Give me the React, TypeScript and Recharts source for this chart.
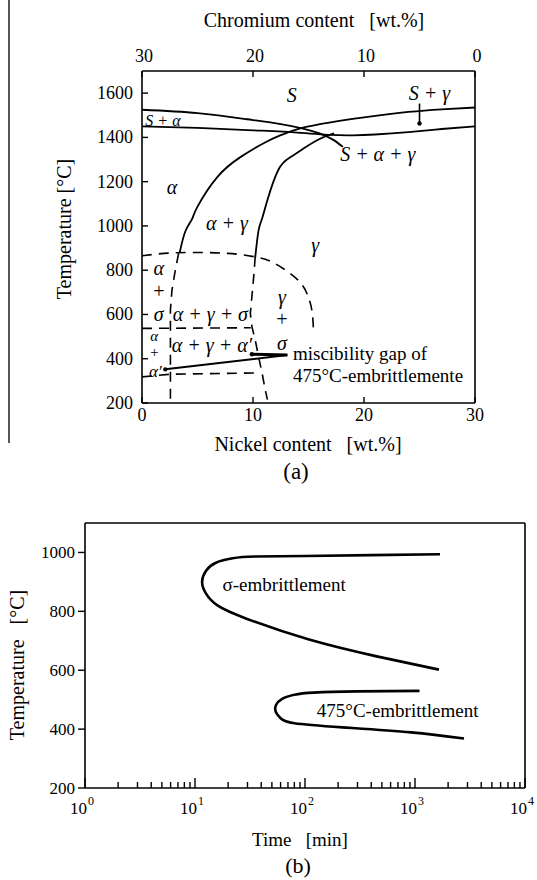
import React from 'react';
import { ComposedChart, Line, Scatter, XAxis, YAxis } from 'recharts';

const FONT = '"Liberation Serif", "Times New Roman", serif';

// ---------- (a) Phase diagram: Nickel content [wt.%] vs Temperature [°C] ----------
const niTicks = [0, 10, 20, 30];
const crTicks = [0, 10, 20, 30];
const tempTicksA = [200, 400, 600, 800, 1000, 1200, 1400, 1600];

const liquidusAlpha = [
  { ni: 0, t: 1525 }, { ni: 5, t: 1510 }, { ni: 9.5, t: 1482 }, { ni: 12.5, t: 1460 },
  { ni: 14.5, t: 1440 }, { ni: 16, t: 1418 }, { ni: 17.2, t: 1390 }, { ni: 18.1, t: 1357 },
];
const solidusLine = [
  { ni: 0, t: 1450 }, { ni: 5, t: 1443 }, { ni: 10, t: 1432 }, { ni: 14, t: 1422 },
  { ni: 17, t: 1411 }, { ni: 19, t: 1409 }, { ni: 21, t: 1413 }, { ni: 24, t: 1424 },
  { ni: 27, t: 1438 }, { ni: 30, t: 1450 },
];
const alphaBoundary = [
  { ni: 3.4, t: 880 }, { ni: 3.9, t: 975 }, { ni: 4.5, t: 1030 }, { ni: 5, t: 1087 },
  { ni: 6.8, t: 1222 }, { ni: 8.9, t: 1312 }, { ni: 11, t: 1375 }, { ni: 12.5, t: 1410 },
  { ni: 14.25, t: 1441 }, { ni: 17, t: 1468 }, { ni: 20, t: 1490 }, { ni: 24, t: 1515 },
  { ni: 27, t: 1527 }, { ni: 30, t: 1535 },
];
const gammaBoundary = [
  { ni: 10.2, t: 858 }, { ni: 10.5, t: 980 }, { ni: 10.8, t: 1030 }, { ni: 11.3, t: 1117 },
  { ni: 12.3, t: 1255 }, { ni: 13.35, t: 1310 }, { ni: 14.55, t: 1350 }, { ni: 16, t: 1393 },
  { ni: 17.3, t: 1418 },
];
const sigmaDome = [
  { ni: 0, t: 865 }, { ni: 3.2, t: 879 }, { ni: 7.7, t: 876 }, { ni: 10.2, t: 860 },
  { ni: 11.8, t: 835 }, { ni: 13.96, t: 760 }, { ni: 14.9, t: 690 }, { ni: 15.3, t: 620 },
  { ni: 15.45, t: 530 },
];
const leftDashed = [
  { ni: 3.3, t: 876 }, { ni: 3.0, t: 800 }, { ni: 2.7, t: 710 }, { ni: 2.56, t: 620 },
  { ni: 2.56, t: 200 },
];
const midDashed = [
  { ni: 10.2, t: 860 }, { ni: 10.05, t: 763 }, { ni: 9.9, t: 680 }, { ni: 9.76, t: 605 },
  { ni: 9.9, t: 545 }, { ni: 10.2, t: 485 }, { ni: 10.5, t: 409 }, { ni: 10.8, t: 340 },
  { ni: 11.1, t: 260 }, { ni: 11.3, t: 215 },
];
const sigmaLower = [{ ni: 0, t: 537 }, { ni: 9.8, t: 540 }];
const alphaPrimeLower = [{ ni: 0, t: 318 }, { ni: 2.6, t: 330 }, { ni: 10.5, t: 336 }];
const miscLeader1 = [{ ni: 2.1, t: 352 }, { ni: 13.1, t: 417 }];
const miscLeader2 = [{ ni: 9.9, t: 420 }, { ni: 13.1, t: 417 }];
const sGammaLeader = [{ ni: 25.0, t: 1553 }, { ni: 25.0, t: 1463 }];
const leaderDots = [{ ni: 2.1, t: 352 }, { ni: 9.9, t: 420 }, { ni: 25.0, t: 1463 }];

const phaseLabels = [
  { ni: 13.5, t: 1591, text: 'S', size: 20 },
  { ni: 25.9, t: 1599, text: 'S + γ', size: 20 },
  { ni: 0.3, t: 1475, text: 'S + α', size: 16, anchor: 'start' },
  { ni: 17.85, t: 1323, text: 'S + α + γ', size: 20, anchor: 'start' },
  { ni: 2.7, t: 1177, text: 'α', size: 20 },
  { ni: 7.66, t: 1014, text: 'α + γ', size: 20 },
  { ni: 15.6, t: 913, text: 'γ', size: 20 },
  { ni: 1.5, t: 808, text: 'α', size: 20 },
  { ni: 1.5, t: 706, text: '+', size: 20 },
  { ni: 1.5, t: 600, text: 'σ', size: 20 },
  { ni: 6.16, t: 600, text: 'α + γ + σ', size: 20 },
  { ni: 1.1, t: 502, text: 'α', size: 15 },
  { ni: 1.1, t: 432, text: '+', size: 15 },
  { ni: 1.2, t: 343, text: 'α′', size: 17 },
  { ni: 6.3, t: 462, text: 'α + γ + α′', size: 20 },
  { ni: 12.6, t: 680, text: 'γ', size: 20 },
  { ni: 12.6, t: 578, text: '+', size: 20 },
  { ni: 12.6, t: 472, text: 'σ', size: 20 },
];
const noteLabels = [
  { ni: 13.6, t: 424, text: 'miscibility gap of' },
  { ni: 13.6, t: 323, text: '475°C-embrittlemente' },
];

// ---------- (b) Time-temperature diagram ----------
const timeTicks = [
  1, 2, 3, 4, 5, 6, 7, 8, 9,
  10, 20, 30, 40, 50, 60, 70, 80, 90,
  100, 200, 300, 400, 500, 600, 700, 800, 900,
  1000, 2000, 3000, 4000, 5000, 6000, 7000, 8000, 9000, 10000,
];
const tempTicksB = [200, 400, 600, 800, 1000];
const sigmaCurve = [
  { time: 1687, t: 994 }, { time: 400, t: 991 }, { time: 100, t: 988 }, { time: 35, t: 986 },
  { time: 22, t: 980 }, { time: 15.5, t: 965 }, { time: 12.6, t: 938 }, { time: 11.6, t: 900 },
  { time: 12.6, t: 860 }, { time: 16, t: 820 }, { time: 29.4, t: 775 }, { time: 107, t: 705 },
  { time: 449, t: 647 }, { time: 1650, t: 602 },
];
const curve475 = [
  { time: 1099, t: 530 }, { time: 300, t: 528 }, { time: 120, t: 524 }, { time: 80, t: 517 },
  { time: 62, t: 503 }, { time: 54.5, t: 482 }, { time: 54, t: 460 }, { time: 60, t: 437 },
  { time: 80, t: 420 }, { time: 219, t: 406 }, { time: 919, t: 389 }, { time: 2790, t: 368 },
];
const curveLabels = [
  { time: 17.8, t: 891, text: 'σ-embrittlement' },
  { time: 128, t: 464, text: '475°C-embrittlement' },
];

// ---------- renderers ----------
const TICK_IN = 6;

const BottomTickA = (props: any) => {
  const { x, y, payload } = props;
  return (
    <g>
      <line x1={x} x2={x} y1={y} y2={y - TICK_IN} stroke="#000" strokeWidth={1.4} />
      <text x={x} y={y + 18} textAnchor="middle" fontFamily={FONT} fontSize={18} fill="#000">
        {payload.value}
      </text>
    </g>
  );
};
const TopTickA = (props: any) => {
  const { x, y, payload } = props;
  return (
    <g>
      <line x1={x} x2={x} y1={y} y2={y + TICK_IN} stroke="#000" strokeWidth={1.4} />
      <text x={x + 2} y={y - 9} textAnchor="middle" fontFamily={FONT} fontSize={18} fill="#000">
        {payload.value}
      </text>
    </g>
  );
};
const LeftTickA = (props: any) => {
  const { x, y, payload } = props;
  return (
    <g>
      <line x1={x} x2={x + TICK_IN} y1={y} y2={y} stroke="#000" strokeWidth={1.4} />
      <text x={x - 9} y={y + 6} textAnchor="end" fontFamily={FONT} fontSize={18} fill="#000">
        {payload.value}
      </text>
    </g>
  );
};
const LogTick = (props: any) => {
  const { x, y, payload } = props;
  const v = payload.value;
  const exp = Math.round(Math.log10(v));
  const major = Math.abs(Math.pow(10, exp) - v) < 1e-9;
  return (
    <g>
      <line x1={x} x2={x} y1={y} y2={y - (major ? 10 : 6)} stroke="#000" strokeWidth={1.4} />
      {major ? (
        <text x={x - 3} y={y + 26} textAnchor="middle" fontFamily={FONT} fontSize={17} fill="#000">
          10
          <tspan dx={1} dy={-9} fontSize={12}>{exp}</tspan>
        </text>
      ) : null}
    </g>
  );
};

const PhaseText = (props: any) => {
  const { cx, cy, payload } = props;
  if (cx == null || cy == null) return null;
  return (
    <text
      x={cx}
      y={cy}
      textAnchor={payload.anchor || 'middle'}
      dominantBaseline="central"
      fontFamily={FONT}
      fontStyle="italic"
      fontSize={payload.size}
      fill="#000"
    >
      {payload.text}
    </text>
  );
};
const NoteText = (props: any) => {
  const { cx, cy, payload } = props;
  if (cx == null || cy == null) return null;
  return (
    <text x={cx} y={cy} textAnchor="start" dominantBaseline="central" fontFamily={FONT} fontSize={19} fill="#000">
      {payload.text}
    </text>
  );
};
const DotShape = (props: any) => {
  const { cx, cy } = props;
  if (cx == null || cy == null) return null;
  return <circle cx={cx} cy={cy} r={2.2} fill="#000" />;
};
const NoShape = () => null;

const crAnchor = crTicks.map((cr) => ({ cr, t: 200 }));

const AX = { stroke: '#000', strokeWidth: 1.6 };
const solid = { stroke: '#000', strokeWidth: 1.8 };
const dashed = { stroke: '#000', strokeWidth: 1.6, strokeDasharray: '10 7' };

export default function App() {
  return (
    <div style={{ position: 'absolute', left: 0, top: 0, width: 537, height: 880, background: '#fff', overflow: 'hidden' }}>
      <div style={{ position: 'absolute', left: 8, top: 0, width: 1.5, height: 443, background: '#555' }} />

      <div style={{ position: 'absolute', left: 0, top: 0 }}>
        <ComposedChart width={537} height={500} margin={{ top: 41, right: 61, bottom: 67, left: 82 }}>
          <XAxis
            xAxisId="ni" dataKey="ni" type="number" domain={[0, 30]} ticks={niTicks}
            allowDataOverflow height={30} tickSize={0} tickMargin={0} tickLine={false}
            axisLine={AX} tick={BottomTickA} interval={0}
          />
          <XAxis
            xAxisId="cr" dataKey="cr" type="number" orientation="top" domain={[0, 30]} reversed ticks={crTicks}
            allowDataOverflow height={30} tickSize={0} tickMargin={0} tickLine={false}
            axisLine={AX} tick={TopTickA} interval={0}
          />
          <YAxis
            yAxisId="t" dataKey="t" type="number" domain={[200, 1700]} ticks={tempTicksA}
            allowDataOverflow width={60} tickSize={0} tickMargin={0} tickLine={false}
            axisLine={AX} tick={LeftTickA} interval={0}
          />
          <YAxis
            yAxisId="r" orientation="right" type="number" domain={[200, 1700]} width={1}
            tick={false} tickLine={false} axisLine={AX}
          />
          <Scatter xAxisId="cr" yAxisId="t" data={crAnchor} dataKey="t" shape={NoShape} isAnimationActive={false} />
          <Line xAxisId="ni" yAxisId="t" data={liquidusAlpha} dataKey="t" type="natural" {...solid} dot={false} activeDot={false} isAnimationActive={false} />
          <Line xAxisId="ni" yAxisId="t" data={solidusLine} dataKey="t" type="natural" {...solid} dot={false} activeDot={false} isAnimationActive={false} />
          <Line xAxisId="ni" yAxisId="t" data={alphaBoundary} dataKey="t" type="natural" {...solid} dot={false} activeDot={false} isAnimationActive={false} />
          <Line xAxisId="ni" yAxisId="t" data={gammaBoundary} dataKey="t" type="natural" {...solid} dot={false} activeDot={false} isAnimationActive={false} />
          <Line xAxisId="ni" yAxisId="t" data={sigmaDome} dataKey="t" type="natural" {...dashed} dot={false} activeDot={false} isAnimationActive={false} />
          <Line xAxisId="ni" yAxisId="t" data={leftDashed} dataKey="t" type="linear" {...dashed} dot={false} activeDot={false} isAnimationActive={false} />
          <Line xAxisId="ni" yAxisId="t" data={midDashed} dataKey="t" type="linear" {...dashed} dot={false} activeDot={false} isAnimationActive={false} />
          <Line xAxisId="ni" yAxisId="t" data={sigmaLower} dataKey="t" type="linear" {...dashed} dot={false} activeDot={false} isAnimationActive={false} />
          <Line xAxisId="ni" yAxisId="t" data={alphaPrimeLower} dataKey="t" type="linear" {...dashed} dot={false} activeDot={false} isAnimationActive={false} />
          <Line xAxisId="ni" yAxisId="t" data={miscLeader1} dataKey="t" type="linear" stroke="#000" strokeWidth={2} dot={false} activeDot={false} isAnimationActive={false} />
          <Line xAxisId="ni" yAxisId="t" data={miscLeader2} dataKey="t" type="linear" stroke="#000" strokeWidth={3} dot={false} activeDot={false} isAnimationActive={false} />
          <Line xAxisId="ni" yAxisId="t" data={sGammaLeader} dataKey="t" type="linear" stroke="#000" strokeWidth={1.6} dot={false} activeDot={false} isAnimationActive={false} />
          <Scatter xAxisId="ni" yAxisId="t" data={leaderDots} dataKey="t" shape={DotShape} isAnimationActive={false} />
          <Scatter xAxisId="ni" yAxisId="t" data={phaseLabels} dataKey="t" shape={PhaseText} isAnimationActive={false} />
          <Scatter xAxisId="ni" yAxisId="t" data={noteLabels} dataKey="t" shape={NoteText} isAnimationActive={false} />
        </ComposedChart>
      </div>

      <div style={{ position: 'absolute', left: 0, top: 490 }}>
        <ComposedChart width={537} height={380} margin={{ top: 32, right: 11, bottom: 42, left: 25 }}>
          <XAxis
            xAxisId="time" dataKey="time" type="number" scale="log" domain={[1, 10000]} ticks={timeTicks}
            allowDataOverflow height={40} tickSize={0} tickMargin={0} tickLine={false}
            axisLine={AX} tick={LogTick} interval={0}
          />
          <XAxis
            xAxisId="top" type="number" orientation="top" scale="log" domain={[1, 10000]} height={1}
            allowDataOverflow tick={false} tickLine={false} axisLine={AX}
          />
          <YAxis
            yAxisId="t" dataKey="t" type="number" domain={[200, 1100]} ticks={tempTicksB}
            allowDataOverflow width={60} tickSize={7} tickMargin={3}
            tickLine={{ stroke: '#000', strokeWidth: 1.4 }} axisLine={AX} interval={0}
            tick={{ fontFamily: FONT, fontSize: 17, fill: '#000' }}
          />
          <YAxis
            yAxisId="r" orientation="right" type="number" domain={[200, 1100]} width={1}
            tick={false} tickLine={false} axisLine={AX}
          />
          <Line xAxisId="time" yAxisId="t" data={sigmaCurve} dataKey="t" type="natural" stroke="#000" strokeWidth={2.6} dot={false} activeDot={false} isAnimationActive={false} />
          <Line xAxisId="time" yAxisId="t" data={curve475} dataKey="t" type="natural" stroke="#000" strokeWidth={2.6} dot={false} activeDot={false} isAnimationActive={false} />
          <Scatter xAxisId="time" yAxisId="t" data={curveLabels} dataKey="t" shape={NoteText} isAnimationActive={false} />
        </ComposedChart>
      </div>

      <svg width={537} height={880} style={{ position: 'absolute', left: 0, top: 0, pointerEvents: 'none' }}>
        <g fontFamily={FONT} fill="#000">
          <text x={314} y={27} textAnchor="middle" fontSize={20}>{'Chromium content\u00a0\u00a0\u00a0[wt.%]'}</text>
          <text x={308} y={451} textAnchor="middle" fontSize={20}>{'Nickel content\u00a0\u00a0\u00a0[wt.%]'}</text>
          <text x={296} y={479} textAnchor="middle" fontSize={23}>(a)</text>
          <text x={64} y={229} textAnchor="middle" dominantBaseline="central" fontSize={20} transform="rotate(-90 64 229)">
            {'Temperature [°C]'}
          </text>
          <text x={17} y={665} textAnchor="middle" dominantBaseline="central" fontSize={20} transform="rotate(-90 17 665)">
            {'Temperature\u00a0\u00a0\u00a0[°C]'}
          </text>
          <text x={300} y={846} textAnchor="middle" fontSize={19}>{'Time\u00a0\u00a0\u00a0[min]'}</text>
          <text x={298} y={873} textAnchor="middle" fontSize={22}>(b)</text>
        </g>
      </svg>
    </div>
  );
}
